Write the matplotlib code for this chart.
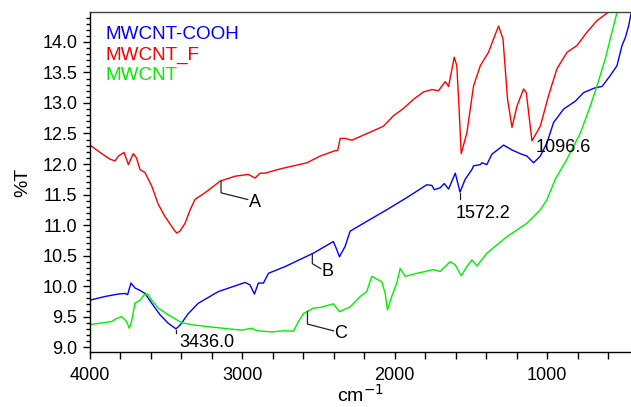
import numpy as np
import matplotlib
matplotlib.use('Agg')
import matplotlib.pyplot as plt
from matplotlib.ticker import MultipleLocator
from matplotlib.transforms import ScaledTranslation

plt.rcParams['font.family'] = ['Liberation Sans', 'DejaVu Sans']

# FTIR spectra, wavenumber (cm-1) vs %T
wn_f = [4000, 3934, 3869, 3836, 3814, 3777, 3748, 3716, 3695, 3672, 3639, 3617,
        3595, 3552, 3508, 3464, 3445, 3431, 3410, 3376, 3343, 3311, 3245, 3146, 3048, 2961,
        2917, 2884, 2851, 2752, 2577, 2490, 2391, 2375, 2358, 2326, 2282, 2118,
        2074, 2009, 1943, 1877, 1812, 1757, 1713, 1702, 1669, 1647, 1610, 1593,
        1580, 1564, 1527, 1483, 1439, 1385, 1352, 1319, 1290, 1260, 1231, 1198,
        1155, 1137, 1100, 1045, 991, 936, 870, 805, 739, 673, 597, 560]
t_f = [12.31, 12.19, 12.08, 12.05, 12.13, 12.19, 11.99, 12.17, 12.10, 11.91, 11.86, 11.75,
       11.64, 11.34, 11.14, 10.98, 10.91, 10.87, 10.90, 11.03, 11.25, 11.42, 11.53, 11.72, 11.80, 11.83,
       11.77, 11.85, 11.85, 11.92, 12.02, 12.13, 12.22, 12.22, 12.42, 12.42, 12.39, 12.57,
       12.62, 12.79, 12.91, 13.06, 13.18, 13.22, 13.20, 13.24, 13.35, 13.27, 13.75, 13.61,
       13.00, 12.17, 12.51, 13.28, 13.61, 13.83, 14.05, 14.26, 14.05, 13.06, 12.60, 12.95,
       13.23, 13.17, 12.38, 12.62, 13.12, 13.56, 13.83, 13.94, 14.16, 14.35, 14.49, 14.60]

wn_cooh = [4000, 3902, 3814, 3770, 3753, 3731, 3705, 3672, 3639, 3595, 3540, 3486,
           3436, 3409, 3355, 3289, 3158, 2982, 2950, 2921, 2895, 2862, 2829, 2720,
           2534, 2403, 2381, 2363, 2326, 2293, 2184, 2053, 1921, 1790, 1757, 1741,
           1702, 1675, 1647, 1603, 1572, 1538, 1494, 1483, 1439, 1428, 1396, 1363,
           1286, 1231, 1177, 1133, 1089, 1045, 1001, 958, 892, 815, 761, 684,
           640, 586, 542, 509, 486, 465, 450]
t_cooh = [9.77, 9.83, 9.87, 9.88, 9.86, 10.05, 9.97, 9.93, 9.88, 9.72, 9.53, 9.39,
          9.30, 9.36, 9.55, 9.72, 9.91, 10.06, 10.02, 9.87, 10.05, 10.05, 10.21, 10.32,
          10.54, 10.73, 10.60, 10.48, 10.65, 10.90, 11.06, 11.25, 11.45, 11.66, 11.65, 11.58,
          11.61, 11.68, 11.59, 11.85, 11.54, 11.75, 11.91, 11.97, 11.99, 12.02, 11.99, 12.16,
          12.31, 12.23, 12.17, 12.13, 12.02, 12.13, 12.35, 12.68, 12.90, 13.03, 13.17, 13.25,
          13.27, 13.45, 13.61, 13.94, 14.08, 14.27, 14.46]

wn_cnt = [4000, 3858, 3825, 3792, 3760, 3742, 3727, 3705, 3672, 3643, 3622, 3595,
          3552, 3486, 3398, 3311, 3201, 3092, 3004, 2938, 2906, 2807, 2720, 2665,
          2632, 2599, 2534, 2490, 2403, 2363, 2293, 2227, 2184, 2151, 2085, 2063,
          2048, 2020, 1987, 1965, 1932, 1855, 1746, 1702, 1637, 1604, 1564, 1527,
          1494, 1461, 1396, 1264, 1133, 1045, 1001, 947, 870, 782, 717, 673,
          619, 575, 538, 520]
t_cnt = [9.37, 9.42, 9.47, 9.50, 9.42, 9.31, 9.42, 9.72, 9.77, 9.86, 9.87, 9.77,
         9.64, 9.53, 9.40, 9.36, 9.33, 9.30, 9.28, 9.31, 9.27, 9.25, 9.27, 9.26,
         9.42, 9.55, 9.64, 9.65, 9.71, 9.58, 9.66, 9.83, 9.91, 10.16, 10.07, 9.88,
         9.61, 9.83, 10.05, 10.29, 10.16, 10.21, 10.27, 10.24, 10.40, 10.35, 10.17, 10.32,
         10.43, 10.33, 10.54, 10.81, 11.03, 11.25, 11.42, 11.75, 12.08, 12.51, 12.95, 13.28,
         13.72, 14.16, 14.52, 14.80]

series = [('MWCNT-COOH', wn_cooh, t_cooh, '#0000ff'),
          ('MWCNT_F', wn_f, t_f, '#ff0000'),
          ('MWCNT', wn_cnt, t_cnt, '#00f000')]

fig = plt.figure(figsize=(6.31, 4.07), dpi=100)
ax = fig.add_axes([0.1426, 0.135, 0.8574, 0.8355])

for name, w, t, c in series:
    ax.plot(w, t, color=c, lw=1.0)

ax.set_xlim(4000, 450)
ax.set_ylim(8.92, 14.49)
ax.xaxis.set_major_locator(MultipleLocator(1000))
ax.xaxis.set_minor_locator(MultipleLocator(200))
ax.yaxis.set_major_locator(MultipleLocator(0.5))
ax.yaxis.set_minor_locator(MultipleLocator(0.1))
ax.yaxis.set_major_formatter(matplotlib.ticker.FormatStrFormatter('%.1f'))
ax.tick_params(which='both', direction='out', labelsize=13, width=1)
ax.tick_params(axis='x', which='both', length=5, pad=6)
ax.tick_params(axis='y', which='major', length=5, pad=4)
ax.tick_params(axis='y', which='minor', length=3)
ax.spines['right'].set_visible(False)
for s in ['left', 'bottom', 'top']:
    ax.spines[s].set_linewidth(1.0)
ax.spines['top'].set_color('#444444')

ax.set_xlabel('cm$^{-1}$', fontsize=14, labelpad=0)
ax.set_ylabel('%T', fontsize=14, labelpad=8)

# sample names, coloured like their curves
for i, (name, w, t, c) in enumerate(series):
    ax.text(0.0296, 0.935 - i * 0.0615, name, color=c, fontsize=13.6,
            transform=ax.transAxes, ha='left', va='center')

def anchor(wn, w, t):
    x = np.array(w)[::-1]
    y = np.array(t)[::-1]
    return ScaledTranslation(wn, np.interp(wn, x, y), ax.transData)

# letter labels with elbow leaders (offsets in pixels)
letters = [('A', 3140, wn_f, t_f, (12, 26.7, 6.7)),
           ('B', 2541, wn_cooh, t_cooh, (10, 8.4, 5)),
           ('C', 2573, wn_cnt, t_cnt, (12.7, 26, 6.7))]
for lab, wn, w, t, (down, dx, dy) in letters:
    tr = fig.dpi_scale_trans + anchor(wn, w, t)
    ax.plot([0, 0, dx / 100], [0, -down / 100, -(down + dy) / 100],
            color='#222222', lw=0.9, transform=tr, clip_on=False)
    ax.text((dx + 1) / 100, -(down + dy + 3) / 100, lab, fontsize=13,
            transform=tr, ha='left', va='center')

# peak positions
peaks = [('3436.0', 3436.0, wn_cooh, t_cooh, 3, 3.5, -4),
         ('1572.2', 1572.2, wn_cooh, t_cooh, 6, -4.5, -12),
         ('1096.6', 1096.6, wn_f, t_f, 0, 3, 1.5)]
for lab, wn, w, t, tick, tx, ty in peaks:
    tr = fig.dpi_scale_trans + anchor(wn, w, t)
    if tick:
        ax.plot([0, 0], [-1 / 100, -(1 + tick) / 100], color='#222222',
                lw=0.9, transform=tr)
    ax.text(tx / 100, ty / 100 - 0.01, lab, fontsize=13, transform=tr,
            ha='left', va='top')

fig.savefig('out.png', dpi=100)
